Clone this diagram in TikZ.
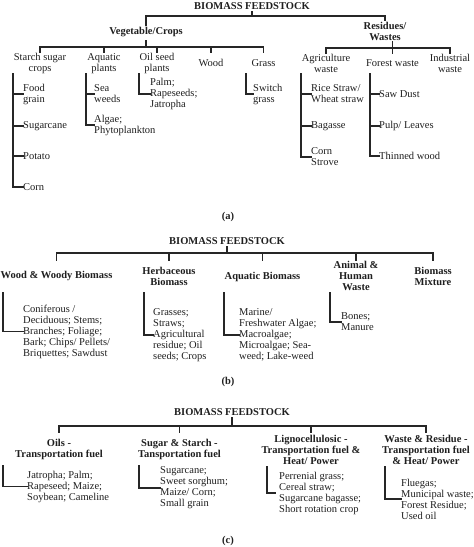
\documentclass[tikz,border=0pt]{standalone}
\usepackage{fontspec}
\setmainfont{Liberation Serif}
\begin{document}
\begin{tikzpicture}[x=1pt,y=-1pt,
  every node/.style={font=\fontsize{10.5}{11}\selectfont, inner sep=1.5pt, text=black!88},
  hdr/.style={font=\fontsize{10.5}{11}\selectfont\bfseries, align=center},
  sub/.style={align=center},
  leaf/.style={anchor=west, align=left, inner sep=0pt},
  conn/.style={line width=1.25pt, line cap=rect, draw=black!85}]
\useasboundingbox (0,0) rectangle (474,547);
% ================= (a)
\node[hdr] (A0) at (252,6) {BIOMASS FEEDSTOCK};
\node[hdr] (Veg) at (146,32) {Vegetable/Crops};
\node[hdr] (Res) at (385,31.5) {Residues/\\Wastes};
\node[sub] (Starch) at (40,63.5) {Starch sugar\\crops};
\node[sub] (Aqp) at (104,63.5) {Aquatic\\plants};
\node[sub] (Oilp) at (157,63.5) {Oil seed\\plants};
\node[sub] (WoodA) at (211,63) {Wood};
\node[sub] (GrassA) at (263.5,63) {Grass};
\node[sub] (Agri) at (326,63.5) {Agriculture\\waste};
\node[sub] (Forest) at (392.5,63) {Forest waste};
\node[sub] (Indus) at (450,63.5) {Industrial\\waste};
\coordinate (a1) at (0,16);
\coordinate (a2) at (0,47);
\coordinate (a2t) at (0,52);
\coordinate (a2r) at (0,41);
\coordinate (a3) at (0,48);
\coordinate (a3t) at (0,53);
\coordinate (a3r) at (0,42);
\draw[conn] (A0.south) -- (A0.south|-a1);
\draw[conn] (Veg.north) -- (Veg.north|-a1) -- (Res.north|-a1) -- (Res.north);
\draw[conn] (Veg|-a2r) -- (Veg|-a2);
\draw[conn] (Starch|-a2t) -- (Starch|-a2) -- (GrassA|-a2) -- (GrassA|-a2t);
\foreach \n in {Aqp,Oilp,WoodA} \draw[conn] (\n|-a2) -- (\n|-a2t);
\draw[conn] (Forest|-a3r) -- (Forest|-a3t);
\draw[conn] (Agri|-a3t) -- (Agri|-a3) -- (Indus|-a3) -- (Indus|-a3t);
% leaves (a)
\node[leaf] (F1) at (23,94) {Food\\grain};
\node[leaf] (F2) at (23,126) {Sugarcane};
\node[leaf] (F3) at (23,156) {Potato};
\node[leaf] (F4) at (23,187) {Corn};
\coordinate (sv) at (13,74);
\draw[conn] (sv) |- (F4.west);
\foreach \n in {F1,F2,F3} \draw[conn] (sv|-\n.west) -- (\n.west);
\node[leaf] (Q1) at (94,94) {Sea\\weeds};
\node[leaf] (Q2) at (94,125) {Algae;\\Phytoplankton};
\coordinate (qv) at (86,74);
\draw[conn] (qv) |- (Q2.west);
\draw[conn] (qv|-Q1.west) -- (Q1.west);
\node[leaf] (O1) at (150,94) {Palm;\\Rapeseeds;\\Jatropha};
\coordinate (ov) at (139,74);
\draw[conn] (ov) |- (O1.west);
\node[leaf] (G1) at (253,94) {Switch\\grass};
\coordinate (gv) at (246,74);
\draw[conn] (gv) |- (G1.west);
\node[leaf] (R1) at (311,94) {Rice Straw/\\Wheat straw};
\node[leaf] (R2) at (311,126) {Bagasse};
\node[leaf] (R3) at (311,157) {Corn\\Strove};
\coordinate (rv) at (301,74);
\draw[conn] (rv) |- (R3.west);
\foreach \n in {R1,R2} \draw[conn] (rv|-\n.west) -- (\n.west);
\node[leaf] (W1) at (379,94) {Saw Dust};
\node[leaf] (W2) at (379,126) {Pulp/ Leaves};
\node[leaf] (W3) at (379,156) {Thinned wood};
\coordinate (wv) at (370,74);
\draw[conn] (wv) |- (W3.west);
\foreach \n in {W1,W2} \draw[conn] (wv|-\n.west) -- (\n.west);
\node[hdr] (La) at (228,217) {(a)};
% ================= (b)
\node[hdr] (B0) at (227,241) {BIOMASS FEEDSTOCK};
\node[hdr] (Bw) at (56.5,276) {Wood \& Woody Biomass};
\node[hdr] (Bh) at (169,276) {Herbaceous\\Biomass};
\node[hdr] (Ba) at (262.5,277) {Aquatic Biomass};
\node[hdr] (Bn) at (356,276) {Animal \&\\Human\\Waste};
\node[hdr] (Bm) at (433,276) {Biomass\\Mixture};
\coordinate (b1) at (0,253);
\coordinate (b1t) at (0,260);
\draw[conn] (B0.south) -- (B0.south|-b1);
\draw[conn] (Bw|-b1t) -- (Bw|-b1) -- (Bm|-b1) -- (Bm|-b1t);
\foreach \n in {Bh,Ba,Bn} \draw[conn] (\n|-b1) -- (\n|-b1t);
\node[leaf] (BL1) at (23,331.5) {Coniferous /\\Deciduous; Stems;\\Branches; Foliage;\\Bark; Chips/ Pellets/\\Briquettes; Sawdust};
\coordinate (bv1) at (3,293);
\draw[conn] (bv1) |- (BL1.west);
\node[leaf] (BL2) at (153,335) {Grasses;\\Straws;\\Agricultural\\residue; Oil\\seeds; Crops};
\coordinate (bv2) at (144,293);
\draw[conn] (bv2) |- (BL2.west);
\node[leaf] (BL3) at (239,335) {Marine/\\Freshwater Algae;\\Macroalgae;\\Microalgae; Sea-\\weed; Lake-weed};
\coordinate (bv3) at (224,293);
\draw[conn] (bv3) |- (BL3.west);
\node[leaf] (BL4) at (341,322) {Bones;\\Manure};
\coordinate (bv4) at (330,293);
\draw[conn] (bv4) |- (BL4.west);
\node[hdr] (Lb) at (228,382) {(b)};
% ================= (c)
\node[hdr] (C0) at (232,412) {BIOMASS FEEDSTOCK};
\node[hdr] (Co) at (59,449.5) {Oils -\\Transportation fuel};
\node[hdr] (Cs) at (179.5,449.5) {Sugar \& Starch -\\Tansportation fuel};
\node[hdr] (Cl) at (311,449.5) {Lignocellulosic -\\Transportation fuel \&\\Heat/ Power};
\node[hdr] (Cw) at (426,449.5) {Waste \& Residue -\\Transportation fuel\\\& Heat/ Power};
\coordinate (c1) at (0,426);
\coordinate (c1t) at (0,432);
\draw[conn] (C0.south) -- (C0.south|-c1);
\draw[conn] (Co|-c1t) -- (Co|-c1) -- (Cw|-c1) -- (Cw|-c1t);
\foreach \n in {Cs,Cl} \draw[conn] (\n|-c1) -- (\n|-c1t);
\node[leaf] (CL1) at (27,486.5) {Jatropha; Palm;\\Rapeseed; Maize;\\Soybean; Cameline};
\coordinate (cv1) at (3,466);
\draw[conn] (cv1) |- (CL1.west);
\node[leaf] (CL2) at (160,488) {Sugarcane;\\Sweet sorghum;\\Maize/ Corn;\\Small grain};
\coordinate (cv2) at (139,466);
\draw[conn] (cv2) |- (CL2.west);
\node[leaf] (CL3) at (279,493) {Perrenial grass;\\Cereal straw;\\Sugarcane bagasse;\\Short rotation crop};
\coordinate (cv3) at (267,467);
\draw[conn] (cv3) |- ([xshift=-4pt]CL3.west);
\node[leaf] (CL4) at (401,499) {Fluegas;\\Municipal waste;\\Forest Residue;\\Used oil};
\coordinate (cv4) at (385,467);
\draw[conn] (cv4) |- (CL4.west);
\node[hdr] (Lc) at (228,541) {(c)};
\end{tikzpicture}
\end{document}
